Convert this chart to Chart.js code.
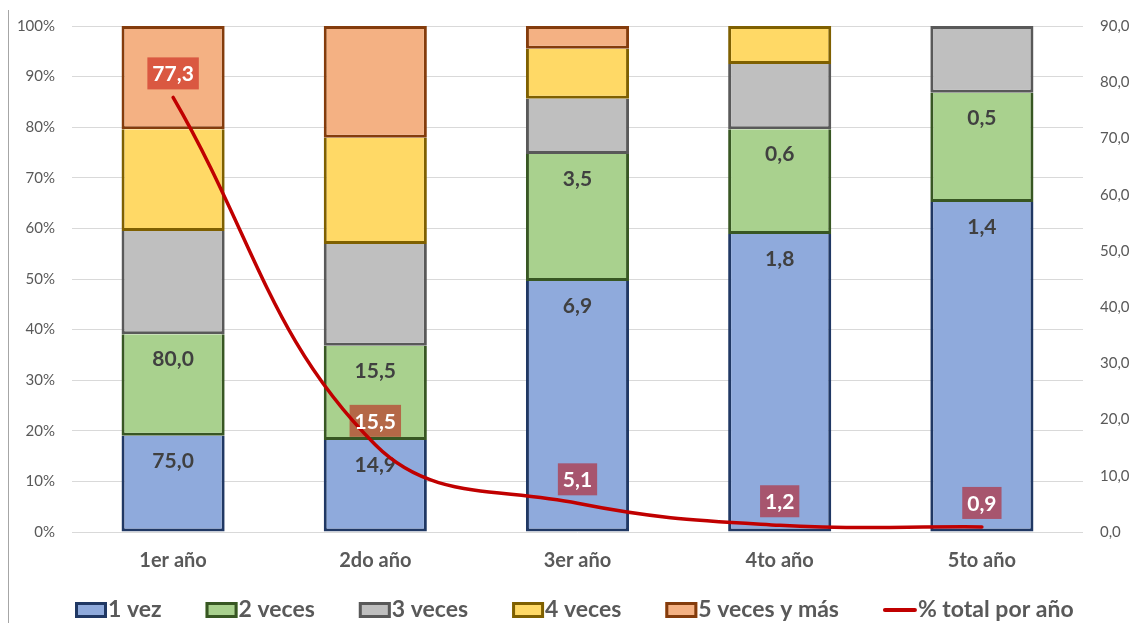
<!DOCTYPE html>
<html>
<head>
<meta charset="utf-8">
<script src="https://cdn.jsdelivr.net/npm/chart.js@4"></script>
<style>
  html, body { margin: 0; padding: 0; background: #ffffff; }
  #wrap { position: relative; width: 1131px; height: 623px; }
  #edge { position: absolute; left: 8px; top: 10px; width: 1px; height: 613px; background: #a6a6a6; }
</style>
</head>
<body>
<div id="wrap">
  <canvas id="c" width="1131" height="623"></canvas>
  <div id="edge"></div>
</div>
<script>
// ---- data ----
const categories = ['1er año', '2do año', '3er año', '4to año', '5to año'];
const seriesNames = ['1 vez', '2 veces', '3 veces', '4 veces', '5 veces y más'];
const vez1   = [19.0, 18.2, 49.6, 58.9, 65.2];
const veces2 = [20.1, 18.6, 25.1, 20.7, 21.6];
const veces3 = [20.4, 20.1, 10.9, 12.9, 13.2];
const veces4 = [20.1, 21.0,  9.9,  7.5,  0.0];
const veces5 = [20.4, 22.1,  4.5,  0.0,  0.0];
const labels1vez   = ['75,0', '14,9', '6,9', '1,8', '1,4'];
const labels2veces = ['80,0', '15,5', '3,5', '0,6', '0,5'];
const totalName = '% total por año';
const totalPorAno = [77.3, 15.5, 5.1, 1.2, 0.9];

// ---- styles ----
const FONT = 'Lato';
const fills   = ['#8FAADC', '#A9D18E', '#BFBFBF', '#FFD966', '#F4B183'];
const borders = ['#203864', '#385723', '#595959', '#7F6000', '#843C0C'];
const lineColor = '#C00000';
const fmt = v => v.toFixed(1).replace('.', ',');

const barSeries = [vez1, veces2, veces3, veces4, veces5];
const barLabelSets = [labels1vez, labels2veces, null, null, null];
const BW = 3;

function segBorder(ctx) {
  const di = ctx.datasetIndex, j = ctx.dataIndex;
  let isTop = true;
  for (let k = di + 1; k < barSeries.length; k++) {
    if (barSeries[k][j] > 0) { isTop = false; break; }
  }
  return { left: BW, right: BW, bottom: BW, top: isTop ? BW : 0 };
}

const datasets = barSeries.map((d, i) => ({
  type: 'bar',
  label: seriesNames[i],
  data: d,
  backgroundColor: fills[i],
  borderColor: borders[i],
  borderWidth: segBorder,
  borderSkipped: false,
  barPercentage: 0.51,
  categoryPercentage: 1,
  stack: 's',
  yAxisID: 'y',
  order: 1,
  barLabels: barLabelSets[i]
}));
datasets.push({
  type: 'line',
  label: totalName,
  data: totalPorAno,
  borderColor: lineColor,
  backgroundColor: lineColor,
  borderWidth: 3.5,
  pointRadius: 0,
  tension: 0.4,
  borderCapStyle: 'round',
  yAxisID: 'y1',
  order: 0
});

const labelPlugin = {
  id: 'customLabels',
  afterDatasetDraw(chart, args) {
    const ds = chart.data.datasets[args.index];
    const ctx = chart.ctx;
    const meta = args.meta;
    if (ds.type === 'bar' && ds.barLabels) {
      ctx.save();
      ctx.font = 'bold 21px ' + FONT;
      ctx.fillStyle = '#404040';
      ctx.textAlign = 'center';
      ctx.textBaseline = 'middle';
      meta.data.forEach((el, j) => {
        const t = ds.barLabels[j];
        if (t) ctx.fillText(t, el.x, el.y + 25);
      });
      ctx.restore();
    }
    if (ds.type === 'line') {
      ctx.save();
      ctx.font = 'bold 21px ' + FONT;
      ctx.textAlign = 'center';
      ctx.textBaseline = 'middle';
      meta.data.forEach((el, j) => {
        const t = fmt(ds.data[j]);
        const w = ctx.measureText(t).width + 10;
        const h = 32;
        const cy = el.y - 24;
        ctx.fillStyle = 'rgba(192,0,0,0.5)';
        ctx.fillRect(el.x - w / 2, cy - h / 2, w, h);
        ctx.fillStyle = '#ffffff';
        ctx.fillText(t, el.x, cy + 1);
      });
      ctx.restore();
    }
  }
};

const legendPlugin = {
  id: 'customLegend',
  afterDraw(chart) {
    const ctx = chart.ctx;
    ctx.save();
    ctx.font = 'bold 23px ' + FONT;
    ctx.textBaseline = 'middle';
    ctx.textAlign = 'left';
    let x = 75;
    const y = 610;
    chart.data.datasets.forEach(ds => {
      if (ds.type === 'bar') {
        ctx.fillStyle = ds.backgroundColor;
        ctx.fillRect(x, y - 8, 32, 16);
        ctx.strokeStyle = ds.borderColor;
        ctx.lineWidth = 3;
        ctx.strokeRect(x + 1.5, y - 6.5, 29, 13);
        ctx.fillStyle = '#595959';
        ctx.fillText(ds.label, x + 33, y);
        x += 33 + ctx.measureText(ds.label).width + 44;
      } else {
        ctx.strokeStyle = ds.borderColor;
        ctx.lineWidth = 4;
        ctx.lineCap = 'round';
        ctx.beginPath();
        ctx.moveTo(x + 2, y);
        ctx.lineTo(x + 32, y);
        ctx.stroke();
        ctx.fillStyle = '#595959';
        ctx.fillText(ds.label, x + 35, y);
      }
    });
    ctx.restore();
  }
};

new Chart(document.getElementById('c'), {
  data: { labels: categories, datasets },
  plugins: [labelPlugin, legendPlugin],
  options: {
    responsive: false,
    animation: false,
    layout: { padding: { top: 26, bottom: 41, left: 0, right: 0 } },
    plugins: { legend: { display: false }, tooltip: { enabled: false } },
    scales: {
      x: {
        stacked: true,
        grid: { display: false, drawTicks: false },
        border: { display: false },
        ticks: { color: '#595959', font: { family: FONT, size: 20, weight: 'bold' }, padding: 17 },
        afterFit: s => { s.height = 50; }
      },
      y: {
        stacked: true,
        position: 'left',
        min: 0, max: 100,
        grid: { color: '#D9D9D9', lineWidth: 1, drawTicks: false },
        border: { display: false },
        ticks: { stepSize: 10, color: '#595959', font: { family: FONT, size: 15 }, padding: 17,
                 callback: v => v + '%' },
        afterFit: s => { s.width = 72; }
      },
      y1: {
        position: 'right',
        min: 0, max: 90,
        grid: { display: false, drawTicks: false },
        border: { display: false },
        ticks: { stepSize: 10, color: '#595959', font: { family: FONT, size: 15 }, padding: 17,
                 callback: v => fmt(v) },
        afterFit: s => { s.width = 48; }
      }
    }
  }
});
</script>
</body>
</html>
